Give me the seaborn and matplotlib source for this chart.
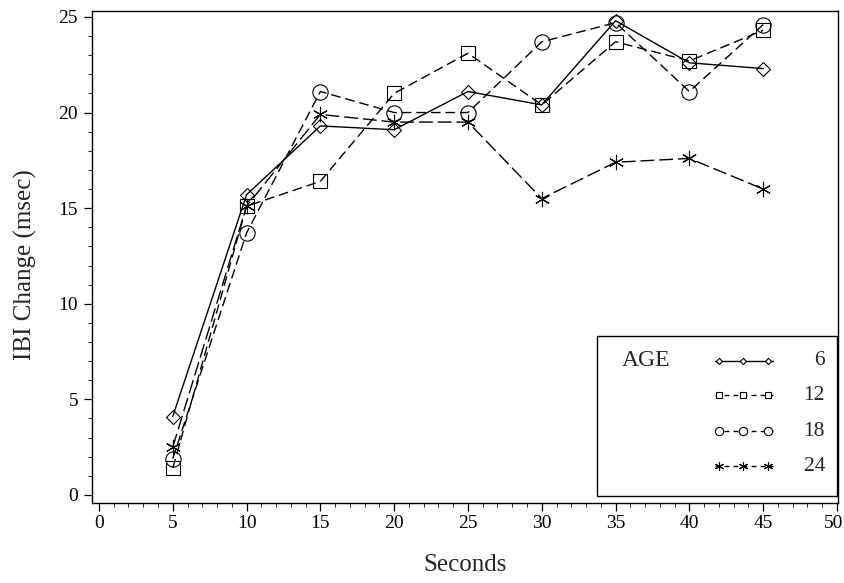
import matplotlib
matplotlib.use("Agg")
import matplotlib.pyplot as plt
import matplotlib.transforms as mtransforms
from matplotlib.ticker import MultipleLocator
from matplotlib.patches import Rectangle
from matplotlib.lines import Line2D
import seaborn as sns
import pandas as pd

seconds = [5, 10, 15, 20, 25, 30, 35, 40, 45]
age_labels = ["6", "12", "18", "24"]
ibi_6 = [4.1, 15.7, 19.3, 19.1, 21.1, 20.4, 24.8, 22.6, 22.3]
ibi_12 = [1.4, 15.1, 16.4, 21.0, 23.1, 20.4, 23.7, 22.7, 24.3]
ibi_18 = [1.9, 13.7, 21.1, 20.0, 20.0, 23.7, 24.7, 21.1, 24.6]
ibi_24 = [2.5, 15.1, 19.9, 19.5, 19.5, 15.5, 17.4, 17.6, 16.0]
series = [ibi_6, ibi_12, ibi_18, ibi_24]

x_ticks = [0, 5, 10, 15, 20, 25, 30, 35, 40, 45, 50]
y_ticks = [0, 5, 10, 15, 20, 25]

sns.set_style("ticks")
plt.rcParams["font.family"] = ["Liberation Serif", "DejaVu Serif"]

styles = [
    dict(marker="D", markersize=7.0, linestyle="-"),
    dict(marker="s", markersize=10.0, linestyle=(0, (7, 3.5))),
    dict(marker="o", markersize=11.0, linestyle=(0, (7, 3.5))),
    dict(marker=(6, 2, 0), markersize=11.0, linestyle=(0, (10, 3.5))),
]
legend_ms = [3.2, 5.0, 6.0, 6.5]

fig = plt.figure(figsize=(8.45, 5.83), dpi=100)
ax = fig.add_axes([92 / 845, 1 - 503 / 583, (838 - 92) / 845, (503 - 11) / 583])

for lab, vals, st in zip(age_labels, series, styles):
    df = pd.DataFrame({"Seconds": seconds, "IBI": vals})
    sns.lineplot(data=df, x="Seconds", y="IBI", ax=ax, color="black",
                 errorbar=None, linewidth=1.0, markerfacecolor="none",
                 markeredgecolor="black", markeredgewidth=0.8, **st)

ax.set_xlim(-0.47, 50.07)
ax.set_ylim(-0.42, 25.31)
ax.set_xticks(x_ticks)
ax.set_yticks(y_ticks)
ax.xaxis.set_minor_locator(MultipleLocator(1))
ax.yaxis.set_minor_locator(MultipleLocator(1))
ax.tick_params(which="major", direction="out", length=6, width=0.9,
               labelsize=14, colors="black", pad=3)
ax.tick_params(which="minor", direction="out", length=3, width=0.7)
ax.tick_params(axis="y", which="major", pad=4)
for sp in ax.spines.values():
    sp.set_visible(True)
    sp.set_linewidth(1.0)
    sp.set_color("black")

# nudge the last x tick label so it stays inside the canvas
fig.canvas.draw()
last = ax.get_xticklabels()[-1]
last.set_transform(last.get_transform() +
                   mtransforms.ScaledTranslation(-3 / 100, 0, fig.dpi_scale_trans))

ax.set_xlabel("Seconds", fontsize=18)
ax.set_ylabel("IBI Change (msec)", fontsize=18)
ax.xaxis.set_label_coords(0.5, -0.103)
ax.yaxis.set_label_coords(-0.074, 0.484)

# custom legend box
ax.add_patch(Rectangle((0.677, 0.0142), 0.3217, 0.325, transform=ax.transAxes,
                       fill=False, linewidth=1.0, edgecolor="black", zorder=5))
ax.text(0.710, 0.289, "AGE", transform=ax.transAxes, fontsize=17,
        ha="left", va="center", zorder=6)
row_y = [0.289, 0.2195, 0.146, 0.075]
mk_x = [0.8405, 0.8727, 0.9062]
for lab, st, ms, ry in zip(age_labels, styles, legend_ms, row_y):
    ax.add_line(Line2D([0.835, 0.913], [ry, ry], transform=ax.transAxes,
                       color="black", linewidth=1.0,
                       linestyle=st["linestyle"] if st["linestyle"] == "-" else (0, (3.5, 3.0)),
                       zorder=6))
    ax.add_line(Line2D(mk_x, [ry] * 3, transform=ax.transAxes, linestyle="none",
                       marker=st["marker"], markersize=ms, markerfacecolor="white",
                       markeredgecolor="black", markeredgewidth=0.8, zorder=7))
    ax.text(0.9826, ry, lab, transform=ax.transAxes, fontsize=15.5,
            ha="right", va="center", zorder=6)

fig.savefig("out.png", dpi=100)
